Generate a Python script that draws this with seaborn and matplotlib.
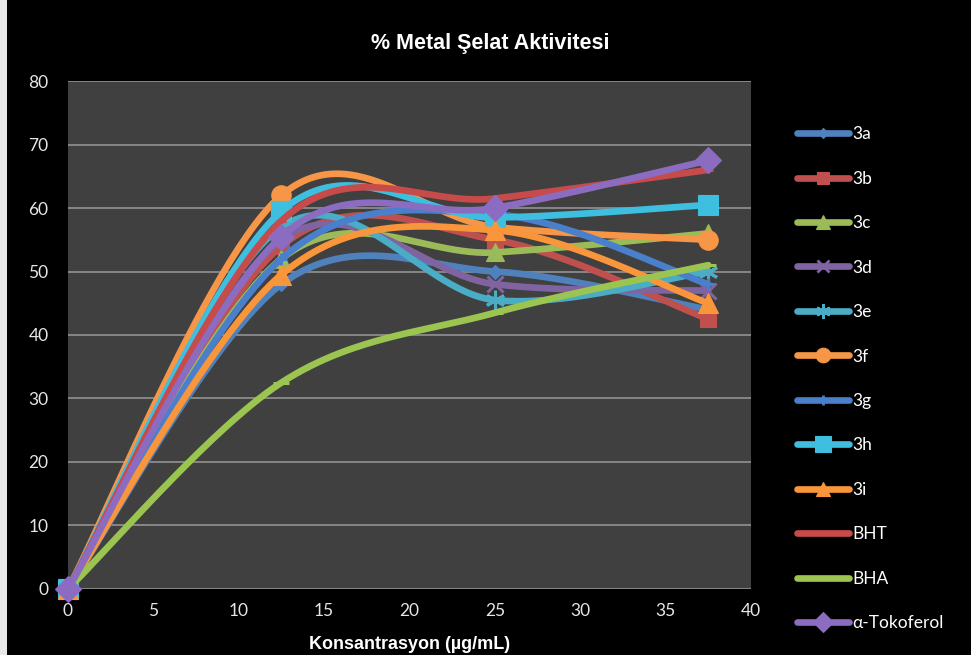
import numpy as np
import pandas as pd
import matplotlib
matplotlib.use("Agg")
import matplotlib.pyplot as plt
from matplotlib.lines import Line2D
from matplotlib.patches import Rectangle
import seaborn as sns

# Concentrations (x) and % metal chelating activity per compound
concentrations = [0, 12.5, 25, 37.5]
series_names = ["3a", "3b", "3c", "3d", "3e", "3f", "3g", "3h", "3i",
                "BHT", "BHA", "α-Tokoferol"]
act_3a = [0, 48.0, 50.0, 44.0]
act_3b = [0, 54.0, 55.0, 42.5]
act_3c = [0, 52.0, 53.0, 56.0]
act_3d = [0, 55.0, 48.0, 47.0]
act_3e = [0, 57.0, 45.5, 50.0]
act_3f = [0, 62.0, 57.0, 55.0]
act_3g = [0, 52.0, 59.0, 48.0]
act_3h = [0, 59.5, 58.5, 60.5]
act_3i = [0, 49.5, 56.5, 45.0]
act_bht = [0, 58.0, 61.5, 66.0]
act_bha = [0, 32.5, 43.5, 51.0]
act_toco = [0, 55.5, 60.0, 67.5]
activities = [act_3a, act_3b, act_3c, act_3d, act_3e, act_3f, act_3g,
              act_3h, act_3i, act_bht, act_bha, act_toco]

colors = ["#4F81BD", "#C0504D", "#9BBB59", "#8064A2", "#4BACC6", "#F79646",
          "#4A7FCC", "#3EBFDF", "#F9963C", "#C84B4B", "#9BC450", "#8C6CC0"]
markers = ["D", "s", "^", "x", (6, 2, 0), "o", "+", "s", "^", "_", "_", "D"]
msizes = [7, 12, 13, 11, 14, 14, 9, 15, 14, 7, 12, 13]
line_art = [False, False, False, True, True, False, True, False, False,
            True, True, False]


def smooth_curve(xs, ys, n=60):
    """Bezier smoothing through the points (Catmull-Rom style control points)."""
    pts = np.column_stack([xs, ys]).astype(float)
    m = len(pts)
    out = []
    for i in range(m - 1):
        p0 = pts[max(i - 1, 0)]
        p1 = pts[i]
        p2 = pts[i + 1]
        p3 = pts[min(i + 2, m - 1)]
        c1 = p1 + (p2 - p0) / 6.0
        c2 = p2 - (p3 - p1) / 6.0
        t = np.linspace(0, 1, n)[:, None]
        seg = ((1 - t) ** 3) * p1 + 3 * ((1 - t) ** 2) * t * c1 \
            + 3 * (1 - t) * t ** 2 * c2 + t ** 3 * p2
        out.append(seg if i == 0 else seg[1:])
    return np.vstack(out)


sns.set_theme(style="dark")
plt.rcParams["font.family"] = ["Lato", "DejaVu Sans"]

fig = plt.figure(figsize=(9.71, 6.55), dpi=100, facecolor="black")
ax = fig.add_axes([0.0700, 0.1008, 0.7034, 0.7755])
ax.set_facecolor("#404040")

handles = []
for k, (name, vals) in enumerate(zip(series_names, activities)):
    curve = smooth_curve(concentrations, vals)
    df = pd.DataFrame({"Konsantrasyon": curve[:, 0], "Aktivite": curve[:, 1]})
    sns.lineplot(data=df, x="Konsantrasyon", y="Aktivite", sort=False,
                 estimator=None, color=colors[k], lw=4.8, ax=ax,
                 zorder=3 + k, solid_capstyle="round")
    mk = markers[k]
    ax.plot(concentrations, vals, ls="none", marker=mk, ms=msizes[k],
            color=colors[k], mec=colors[k],
            mew=2.2 if line_art[k] else 0.8, zorder=3 + k, clip_on=False)
    handles.append(Line2D([0], [0], color=colors[k], lw=4.8, marker=mk,
                          ms=msizes[k] * 0.75, mec=colors[k],
                          mew=2 if line_art[k] else 0.8))

ax.set_xlim(0, 40)
ax.set_ylim(0, 80)
ax.set_xticks(range(0, 41, 5))
ax.set_yticks(range(0, 81, 10))
ax.grid(axis="y", color="#8C8C8C", lw=1.3)
ax.grid(axis="x", visible=False)
for s in ax.spines.values():
    s.set_visible(False)
ax.tick_params(colors="#E6E6E6", labelsize=12.5, length=0, pad=10)
ax.tick_params(axis="y", pad=14)
ax.set_xlabel("")
ax.set_ylabel("")

fig.text(0.505, 0.933, "% Metal Şelat Aktivitesi", ha="center", va="center",
         color="white", fontsize=15.5, fontweight="bold",
         family=["Liberation Sans", "DejaVu Sans"])
fig.text(0.422, 0.003, "Konsantrasyon (µg/mL)", ha="center", va="bottom",
         color="white", fontsize=13, fontweight="bold",
         family=["Liberation Sans", "DejaVu Sans"])

fig.patches.append(Rectangle((0, 0), 7 / 971, 1, transform=fig.transFigure,
                             facecolor="#E8E8E8", edgecolor="none"))

leg = fig.legend(handles, series_names, loc="upper left",
                 bbox_to_anchor=(0.814, 0.818), frameon=False,
                 fontsize=12.5, labelcolor="white", handlelength=3.0,
                 handletextpad=0.15, labelspacing=1.64, borderaxespad=0)

fig.savefig("out.png", dpi=100, facecolor="black")
